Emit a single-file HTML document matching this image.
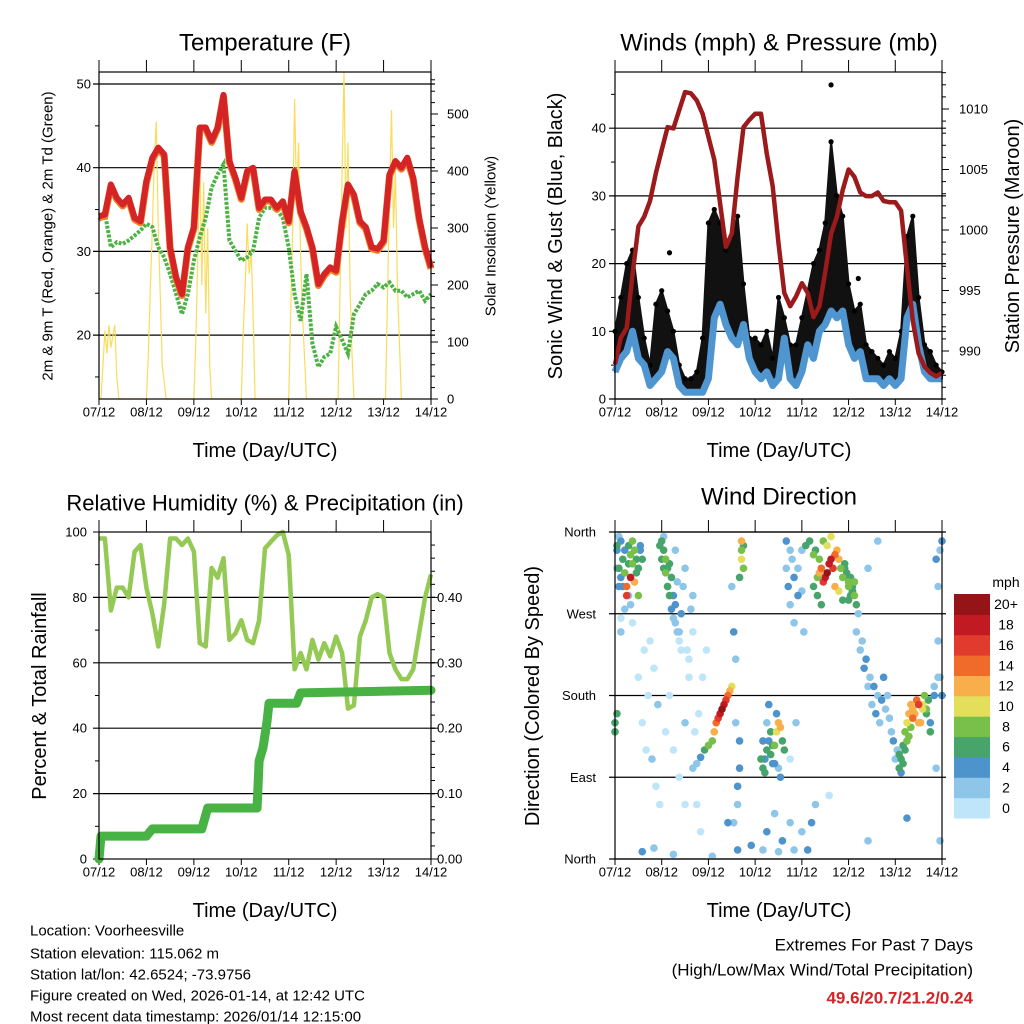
<!DOCTYPE html>
<html><head><meta charset="utf-8"><style>
body{margin:0;background:#fff;}
svg{display:block;font-family:"Liberation Sans",sans-serif;}
</style></head><body>
<svg id="chart" width="1024" height="1024" viewBox="0 0 1024 1024" xmlns="http://www.w3.org/2000/svg">
<rect x="0" y="0" width="1024" height="1024" fill="#fff"/>
<g id="layer"></g>
</svg>
<script>
// ---------- DATA (3-hourly unless noted) ----------
const dayLabels = ["07/12","08/12","09/12","10/12","11/12","12/12","13/12","14/12"];
const tempTicks = [20,30,40,50];
const solarTicks = [0,100,200,300,400,500];
const windTicks = [0,10,20,30,40];
const presTicks = [990,995,1000,1005,1010];
const rhTicks = [0,20,40,60,80,100];
const precipTicks = [0,0.1,0.2,0.3,0.4];
const dirTicks = ["North","East","South","West","North"];
const speedBins = ["0","2","4","6","8","10","12","14","16","18","20+"];

const tempF = [34.2,34.4,38.0,36.4,35.6,36.4,34.0,33.6,38.4,41.2,42.4,41.6,30.5,26.9,24.9,30.5,32.9,44.8,44.8,43.2,44.8,48.7,40.8,38.8,36.4,39.6,40.0,35.2,36.2,36.2,35.2,36.0,33.6,39.6,34.8,32.9,30.5,26.1,27.3,28.1,27.7,33.6,38.0,36.8,33.6,32.9,30.5,30.3,31.3,39.2,40.8,40.0,41.2,38.8,34.0,30.5,28.1];
const dewF = [33.7,34.6,30.5,31.1,30.9,31.3,31.9,32.5,33.3,32.9,30.5,29.3,27.3,24.9,22.5,24.9,28.9,31.7,34.0,37.6,39.2,40.4,31.3,30.1,28.9,29.3,30.1,34.0,35.2,35.2,35.0,34.0,30.5,24.9,21.7,27.3,19.0,16.2,17.4,17.8,21.0,19.4,17.8,22.5,23.7,24.9,25.3,26.1,25.7,26.3,25.3,25.3,24.5,24.9,25.3,24.1,24.9];
const solarH = [1,2,3,4,5,6,7,8,9,10, 24,25,26,27,28,29,30,31,32,34, 48,49,50,51,52,53,54,55,56,57, 72,73,74,75,76,77,78,79, 96,97,98,99,100,101,102,103,105, 121,122,123,124,125,126,127,128,129, 145,146,147,148,149,150,151,152,153];
const solarV = [0,60,120,80,130,90,110,130,40,0, 0,80,200,300,420,487,300,180,60,0, 0,100,250,431,200,380,150,300,60,0, 0,120,200,308,220,260,150,0, 0,150,300,527,350,450,250,150,0, 0,200,400,574,300,450,200,80,0, 0,180,350,507,300,400,200,100,0];

const pressure = [988.9,991.1,991.9,996.3,1000.3,1001.1,1002.4,1004.7,1006.6,1008.5,1008.4,1009.9,1011.4,1011.3,1010.7,1009.6,1007.7,1005.8,1002.2,998.6,999.7,1004.4,1008.5,1009.1,1009.6,1009.6,1006.3,1003.6,998.9,994.8,993.7,994.5,995.6,994.8,992.8,993.7,996.5,999.7,1001.1,1003.3,1005.0,1004.4,1003.1,1002.8,1002.8,1003.1,1002.4,1002.3,1002.3,1001.6,996.9,992.5,989.8,988.7,988.2,987.9,988.2];
const windMean = [4,6,7,10,6,5,2,3,4,7,6,2,1,1,1,1,3,12,14,11,9,8,11,6,4,3,4,2,3,9,3,2,4,8,6,10,11,13,12,13,8,6,7,3,3,3,2,3,2,3,12,14,8,4,3,3,3];
const windGust = [10,15,20,22,15,9,5,14,16,13,10,5,3,3,4,9,26,28,26,22,24,27,17,9,9,8,10,6,15,12,8,8,12,16,20,22,26,38,30,27,17,13,14,8,7,6,5,7,6,10,24,27,15,8,7,5,4];
const gustOutH = [111,28,125];
const gustOutV = [46.4,21.6,17.8];

const rh = [98,98,76,83,83,80,94,96,83,75,65,78,98,98,96,98,94,66,65,89,86,92,67,69,73,67,66,73,95,97,99,100,93,58,63,58,67,61,66,62,68,63,46,47,68,73,80,81,80,63,58,55,55,58,69,80,87];
const precipH = [0,1,24,27,52,55,80,81,83,85,86,100,102,168];
const precipV = [0,0.035,0.035,0.046,0.046,0.078,0.078,0.15,0.17,0.21,0.238,0.238,0.254,0.258];

const dirHour = [1,2,3,4,5,6,7,8,9,10,11,12,13,2,4,6,8,10,12,14, 3,8,12,14,16,18,20,22, 24,25,26,27,28,29,30,31,25,27, 31,32,33,34,35,36,37,38,39,40, 40,42,44,46,48,50,51,52,53,54,55,56,57,58,59,60, 41,43,45,47, 63,63,64,64,65,65,66,66,64,65, 76,77,78,79,80,81,82,83,84,85,86,87, 76,78,82,86,90,92, 88,89,90,91,92,94,96,98,100,102, 102,104,105,106,107,108,109,110,111,112,113,114,115,116,117, 118,119,120,121,122,123,120,122, 124,126,128,130,132,134,136,138,140,142,144,130,135, 146,147,148,149,150,151,152,153,154,155,156,157,158,159,160,161,162, 164,166,167,168,167, 1,14,20,30,36,50,58,70,84,96,110,130,150,
 0,1,2,3,5,7,9,11,13,3,5,7,9,1,0, 23,24,25,26,27,28,29,30,31,32,33,34, 15,17,19,21,23,26,28,30,33,36,38,40,42,44, 60,61,62,62,63,61, 75,76,77,78,79,80,81,82,83,84,85, 88,90,92,94,96,97,99,101,103,90,93, 103,105,107,109,111,113,115,117,104,106, 118,119,120,121,122,123,124, 125,127,129,131,133,135,137,139,141,143,145,147, 146,148,150,152,154,156,158,160,162,164,149,151,153, 165,166,167,168,166,165];
const dirDeg = [340,320,350,330,315,300,345,335,325,340,330,320,345,355,300,290,310,305,290,330, 265,280,200,150,120,240,210,170, 350,340,330,320,325,310,290,280,355,300, 260,250,240,270,300,320,230,220,275,290, 100,105,112,120,125,130,140,150,155,160,165,170,175,180,185,190, 140,160,200,230, 10,60,100,130,330,340,320,345,310,350, 100,110,120,130,115,105,125,140,150,145,130,120, 10,30,50,20,40,10, 320,300,340,330,310,290,295,345,350,335, 300,310,315,320,305,310,315,325,330,320,335,340,330,320,310, 320,310,300,290,295,305,285,300, 250,230,210,190,170,160,150,200,180,140,110,320,350, 100,110,125,140,150,160,170,165,160,175,170,150,165,180,160,175,150, 190,200,340,350,20, 160,8,12,5,60,3,40,15,8,30,70,20,45,
 140,345,300,310,340,325,350,315,340,250,275,290,260,320,150, 345,330,320,315,300,290,275,265,340,305,250,230, 230,180,110,80,60,140,180,120,90,150,200,250,60,30, 300,250,220,150,80,40, 110,130,95,150,170,140,125,105,160,100,90, 350,280,260,320,340,250,10,40,60,110,150, 340,330,350,345,355,300,295,285,290,280, 325,315,305,310,295,290,280, 270,240,220,200,190,180,175,165,155,130,120,95, 115,105,130,145,160,150,170,165,140,180,120,135,155, 330,300,200,180,240,100];
const dirSpd = [5,6,4,7,8,15,7,8,9,8,6,7,5,3,4,16,18,12,9,6, 1,2,1,0,1,1,0,2, 6,7,8,7,6,7,5,4,3,6, 3,2,1,4,2,3,1,1,2,3, 2,3,4,6,8,9,12,14,16,18,20,19,17,15,13,10, 0,1,1,0, 4,3,5,4,10,9,8,7,6,12, 6,5,7,4,6,5,8,10,12,13,7,6, 3,4,3,5,3,2, 3,4,3,2,4,5,3,6,7,8, 7,9,12,15,17,18,20,19,18,16,14,13,12,9,8, 7,6,8,7,6,8,6,7, 3,2,4,3,2,4,3,4,3,2,3,3,2, 6,7,6,8,10,12,13,12,11,15,16,12,11,8,7,6,5, 3,3,3,4,3, 6,4,3,2,1,3,5,4,3,2,1,3,4,
 7,7,5,4,5,6,8,7,4,2,3,2,1,3,7, 7,6,7,8,7,6,5,3,2,3,2,1, 1,1,2,1,0,1,1,0,1,2,1,1,0,1, 3,4,3,3,4,3, 6,5,6,3,4,7,6,5,4,3,5, 4,3,2,3,2,3,4,5,3,1,2, 6,8,9,10,11,12,10,7,6,7, 6,7,8,6,7,8,6, 2,3,4,3,4,3,4,3,2,4,3,4, 7,6,8,9,12,13,10,8,7,4,6,8,14, 4,3,3,4,2,3];

// ---------- helpers ----------
const NS="http://www.w3.org/2000/svg";
const layer=document.getElementById('layer');
function mk(tag,attrs,parent){const e=document.createElementNS(NS,tag);for(const k in attrs)e.setAttribute(k,attrs[k]);(parent||layer).appendChild(e);return e;}
function txt(s,x,y,size,anchor,parent,extra){const e=mk('text',Object.assign({x:x,y:y,'font-size':size,'text-anchor':anchor||'middle','dominant-baseline':'central',fill:'#000'},extra||{}),parent);e.textContent=s;return e;}
const binColors=["#bfe5f9","#8ec6ea","#4d93cc","#47a46a","#79c04b","#e4df5b","#f7ae4b","#f06b2a","#e03b2c","#c21a23","#941418"];
function spdColor(s){return binColors[Math.min(10,Math.floor(s/2))];}

function panel(name,x0,x1,yT,yB){
  const g=mk('g',{});
  
  
  const tx=h=>x0+h/168*(x1-x0);
  dayLabels.forEach((d,i)=>{const x=x0+i*(x1-x0)/7;
    mk('line',{x1:x,y1:yT-12,x2:x,y2:yT,stroke:'#000','stroke-width':1},g);
    mk('line',{x1:x,y1:yB,x2:x,y2:yB+6,stroke:'#000','stroke-width':1},g);
    const t=txt(d,x,yB+13,13,'middle',g);
    
    
  });
  return {g,tx};
}
function frame(g,x0,x1,yT,yB){mk('rect',{x:x0,y:yT,width:x1-x0,height:yB-yT,fill:'none',stroke:'#000','stroke-width':1.2},g);}
function hline(g,x0,x1,y){mk('line',{x1:x0-6,y1:y,x2:x1+4,y2:y,stroke:'#000','stroke-width':1.2},g);}
function path(pts){return pts.map((p,i)=>(i?'L':'M')+p[0].toFixed(1)+','+p[1].toFixed(1)).join('');}

// ---------- Panel 1: Temperature ----------
(function(){
  const x0=99,x1=431,yT=72,yB=399;
  const {g,tx}=panel('temperature-panel',x0,x1,yT,yB);
  const yT_=T=>84+(50-T)*8.37, yS=S=>399-S*0.57;
  tempTicks.forEach(v=>{hline(g,x0,x1,yT_(v));const t=txt(String(v),x0-8,yT_(v),13,'end',g);
    
    });
  [15,25,35,45].forEach(v=>mk('line',{x1:x0-4,y1:yT_(v),x2:x0,y2:yT_(v),stroke:'#000'},g));
  solarTicks.forEach(v=>{mk('line',{x1:x1,y1:yS(v),x2:x1+7,y2:yS(v),stroke:'#000'},g);const t=txt(String(v),x1+16,yS(v),13,'start',g);
    
    });
  for(let v=20;v<=560;v+=20){if(v%100)mk('line',{x1:x1,y1:yS(v),x2:x1+4,y2:yS(v),stroke:'#000'},g);}
  const sp=mk('path',{d:path(solarH.map((h,i)=>[tx(h),yS(solarV[i])])),fill:'none',stroke:'#f9dc5c','stroke-width':1.2},g);
  
  
  const dp=mk('path',{d:path(dewF.map((v,i)=>[tx(i*3),yT_(v)])),fill:'none',stroke:'#4cb243','stroke-width':4,'stroke-dasharray':'3 1.5'},g);
  
  
  const op=mk('path',{d:path(tempF.map((v,i)=>[tx(i*3),yT_(v)+1.5])),fill:'none',stroke:'#f07f2a','stroke-width':7,'stroke-linejoin':'round'},g);
  
  
  const rp=mk('path',{d:path(tempF.map((v,i)=>[tx(i*3),yT_(v)])),fill:'none',stroke:'#d42426','stroke-width':6,'stroke-linejoin':'round'},g);
  
  
  frame(g,x0,x1,yT,yB);
  const t1=txt('Temperature (F)',265,43,24,'middle',g);
  
  
  const t2=txt('Time (Day/UTC)',265,451,20,'middle',g);
  
  
  const t3=txt('2m & 9m T (Red, Orange) & 2m Td (Green)',48,236,15,'middle',g,{transform:'rotate(-90 48 236)'});
  
  
  const t4=txt('Solar Insolation (Yellow)',491,236,15,'middle',g,{transform:'rotate(-90 491 236)'});
  
  
})();

// ---------- Panel 2: Winds & Pressure ----------
(function(){
  const x0=615,x1=942,yT=72,yB=399;
  const {g,tx}=panel('wind-pressure-panel',x0,x1,yT,yB);
  const yW=w=>399-w*6.77, yP=p=>351-(p-990)*12.1;
  windTicks.forEach(v=>{hline(g,x0,x1,yW(v));const t=txt(String(v),x0-9,yW(v),13,'end',g);
    
    });
  [5,15,25,35,45].forEach(v=>mk('line',{x1:x0-4,y1:yW(v),x2:x0,y2:yW(v),stroke:'#000'},g));
  presTicks.forEach(v=>{mk('line',{x1:x1,y1:yP(v),x2:x1+7,y2:yP(v),stroke:'#000'},g);const t=txt(String(v),x1+17,yP(v),13,'start',g);
    
    });
  for(let v=987;v<=1013;v++){if(v%5)mk('line',{x1:x1,y1:yP(v),x2:x1+4,y2:yP(v),stroke:'#000'},g);}
  const upper=windGust.map((v,i)=>[tx(i*3),yW(v)]);
  const lower=windMean.map((v,i)=>[tx(i*3),yW(v)]).reverse();
  const ga=mk('path',{d:path(upper.concat(lower))+'Z',fill:'#111',stroke:'#111','stroke-width':2,'stroke-linejoin':'round'},g);
  
  
  windGust.forEach((v,i)=>{const c=mk('circle',{cx:tx(i*3),cy:yW(v),r:2.6,fill:'#000'},g);
    
    });
  gustOutH.forEach((h,i)=>{const c=mk('circle',{cx:tx(h),cy:yW(gustOutV[i]),r:2.6,fill:'#000'},g);
    
    });
  const wl=mk('path',{d:path(windMean.map((v,i)=>[tx(i*3),yW(v)])),fill:'none',stroke:'#4f96d0','stroke-width':7,'stroke-linejoin':'round'},g);
  
  
  const pl=mk('path',{d:path(pressure.map((v,i)=>[tx(i*3),yP(v)])),fill:'none',stroke:'#9b1a1c','stroke-width':4.5,'stroke-linejoin':'round'},g);
  
  
  frame(g,x0,x1,yT,yB);
  const t1=txt('Winds (mph) & Pressure (mb)',779,43,24,'middle',g);
  
  
  const t2=txt('Time (Day/UTC)',779,451,20,'middle',g);
  
  
  const t3=txt('Sonic Wind & Gust (Blue, Black)',556,236,20,'middle',g,{transform:'rotate(-90 556 236)'});
  
  
  const t4=txt('Station Pressure (Maroon)',1013,236,20,'middle',g,{transform:'rotate(-90 1013 236)'});
  
  
})();

// ---------- Panel 3: RH & Precip ----------
(function(){
  const x0=99,x1=431,yT=532,yB=859;
  const {g,tx}=panel('humidity-precip-panel',x0,x1,yT,yB);
  const yR=r=>859-r*3.27, yPr=v=>859-v*654;
  rhTicks.forEach(v=>{if(v>0&&v<100)hline(g,x0,x1,yR(v));else mk('line',{x1:x0-6,y1:yR(v),x2:x0,y2:yR(v),stroke:'#000'},g);
    const t=txt(String(v),x0-12,yR(v),13,'end',g);
    
    });
  [10,30,50,70,90].forEach(v=>mk('line',{x1:x0-4,y1:yR(v),x2:x0,y2:yR(v),stroke:'#000'},g));
  precipTicks.forEach(v=>{mk('line',{x1:x1,y1:yPr(v),x2:x1+7,y2:yPr(v),stroke:'#000'},g);const t=txt(v.toFixed(2),x1+6,yPr(v),13,'start',g);
    
    });
  for(let v=0.02;v<0.5;v+=0.02){mk('line',{x1:x1,y1:yPr(v),x2:x1+4,y2:yPr(v),stroke:'#000'},g);}
  const rl=mk('path',{d:path(rh.map((v,i)=>[tx(i*3),yR(v)])),fill:'none',stroke:'#93c954','stroke-width':4.5,'stroke-linejoin':'round'},g);
  
  
  const pl=mk('path',{d:path(precipH.map((h,i)=>[tx(h),yPr(precipV[i])])),fill:'none',stroke:'#48b245','stroke-width':9,'stroke-linejoin':'round','stroke-linecap':'round'},g);
  
  
  frame(g,x0,x1,yT,yB);
  const t1=txt('Relative Humidity (%) & Precipitation (in)',265,503,22,'middle',g);
  
  
  const t2=txt('Time (Day/UTC)',265,911,20,'middle',g);
  
  
  const t3=txt('Percent & Total Rainfall',40,696,20,'middle',g,{transform:'rotate(-90 40 696)'});
  
  
})();

// ---------- Panel 4: Wind Direction ----------
(function(){
  const x0=615,x1=942,yT=532,yB=859;
  const {g,tx}=panel('wind-direction-panel',x0,x1,yT,yB);
  const yD=d=>859-d*(327/360);
  dirTicks.forEach((s,i)=>{const y=yD(i*90);if(i>0&&i<4)hline(g,x0,x1,y);else mk('line',{x1:x0-6,y1:y,x2:x1+4,y2:y,stroke:'#000','stroke-width':1.2},g);
    const t=txt(s,x0-19,y,13,'end',g);
    
    });
  const order=dirSpd.map((s,i)=>i).sort((a,b)=>dirSpd[a]-dirSpd[b]);
  order.forEach(i=>{const c=mk('circle',{cx:tx(dirHour[i]),cy:yD(dirDeg[i]),r:3.8,fill:spdColor(dirSpd[i])},g);
    
    });
  frame(g,x0,x1,yT,yB);
  const cb=mk('g',{},g);
  
  
  const bh=224/11;
  speedBins.forEach((s,i)=>{const k=10-i;const y=594+k*bh;
    const r=mk('rect',{x:954,y:y,width:36,height:bh+0.5,fill:binColors[i]},cb);
    
    
    const t=txt(s,1006,y+bh/2,14,'middle',cb);
    
    });
  const mph=txt('mph',1006,582,14,'middle',cb);
  
  
  const t1=txt('Wind Direction',779,497,24,'middle',g);
  
  
  const t2=txt('Time (Day/UTC)',779,911,20,'middle',g);
  
  
  const t3=txt('Direction (Colored By Speed)',533,696,20,'middle',g,{transform:'rotate(-90 533 696)'});
  
  
})();

// ---------- footer text ----------
(function(){
  const info=["Location: Voorheesville","Station elevation: 115.062 m","Station lat/lon: 42.6524; -73.9756","Figure created on Wed, 2026-01-14, at 12:42 UTC","Most recent data timestamp: 2026/01/14 12:15:00"];
  const ys=[931,954,975,996,1017];
  info.forEach((s,i)=>{const t=txt(s,30,ys[i],15,'start');
    
    });
  const e1=txt('Extremes For Past 7 Days',973,945,17,'end');
  
  
  const e2=txt('(High/Low/Max Wind/Total Precipitation)',973,970,17,'end');
  
  
  const e3=txt('49.6/20.7/21.2/0.24',973,998,17,'end',null,{fill:'#d42426','font-weight':'bold'});
  
  
})();
</script>
</body></html>
